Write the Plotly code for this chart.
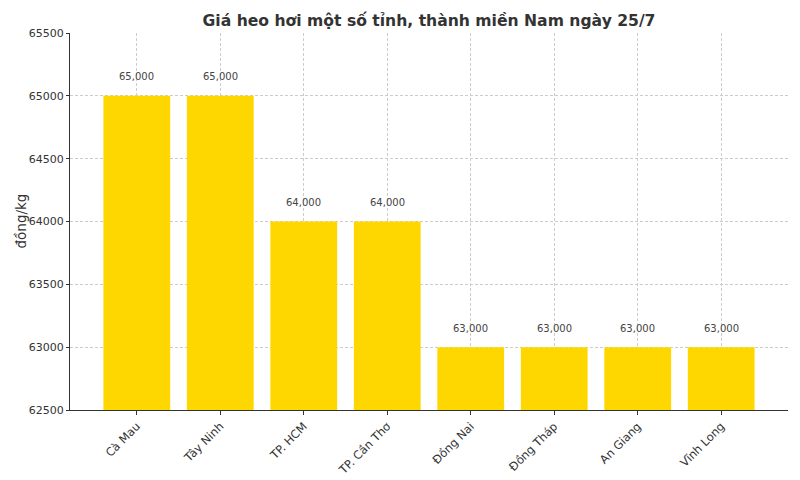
import plotly.graph_objects as go

provinces = ['Cà Mau', 'Tây Ninh', 'TP. HCM', 'TP. Cần Thơ', 'Đồng Nai', 'Đồng Tháp', 'An Giang', 'Vĩnh Long']
prices = [65000, 65000, 64000, 64000, 63000, 63000, 63000, 63000]
y_ticks = [62500, 63000, 63500, 64000, 64500, 65000, 65500]

fig = go.Figure()
fig.add_trace(go.Bar(x=provinces, y=prices, marker_color='#FFD700', width=0.8,
                     marker_line_width=0, showlegend=False))

# nhãn giá trị trên cột
for p, v in zip(provinces, prices):
    fig.add_annotation(x=p, y=v, text=f'{v:,}', showarrow=False, yshift=19,
                       font=dict(size=10, color='#444444'))

# tiêu đề trục y
fig.add_annotation(xref='paper', yref='paper', x=0, y=0.5, xanchor='center', yanchor='middle',
                   xshift=-50, text='đồng/kg', textangle=-90, showarrow=False,
                   font=dict(size=13.5, color='#333333'))

fig.update_layout(
    title=dict(text='<b>Giá heo hơi một số tỉnh, thành miền Nam ngày 25/7</b>',
               xref='paper', x=0.5, xanchor='center', y=0.985, yanchor='top',
               font=dict(size=15.6, color='#333333')),
    font=dict(family='DejaVu Sans', color='#333333'),
    width=800, height=480,
    margin=dict(l=62, r=20, t=25, b=78),
    plot_bgcolor='white', paper_bgcolor='white',
)
fig.update_xaxes(range=[-0.8, 7.8], tickangle=-45, showgrid=True, gridcolor='#cccccc',
                 griddash='3px,2px', gridwidth=0.7, showline=True, linecolor='#333333',
                 linewidth=1.2, ticks='outside', ticklen=4, tickcolor='#333333',
                 tickfont=dict(size=11.5), layer='above traces', automargin=False)
fig.update_yaxes(range=[62500, 65500], tickvals=y_ticks, ticktext=[str(t) for t in y_ticks],
                 showgrid=True, gridcolor='#cccccc',
                 griddash='3px,2px', gridwidth=0.7, showline=True, linecolor='#333333',
                 linewidth=1.2, ticks='outside', ticklen=3, tickcolor='#333333',
                 tickfont=dict(size=11), zeroline=False, layer='above traces', automargin=False)

fig.write_html('out.html')
